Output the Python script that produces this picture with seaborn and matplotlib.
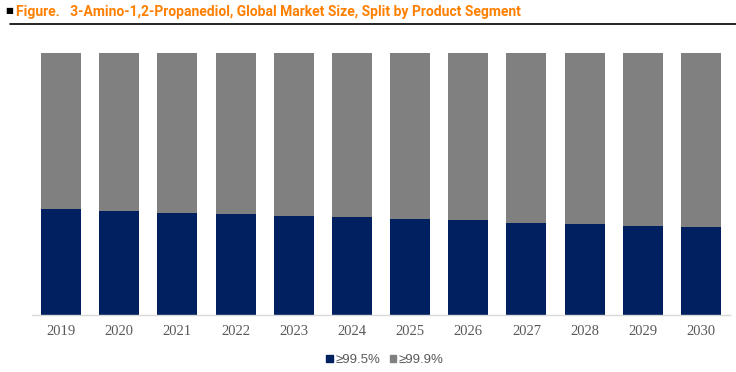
import matplotlib
matplotlib.use("Agg")
import matplotlib.pyplot as plt
import matplotlib.patches as mpatches
import seaborn as sns
import pandas as pd

years = ["2019", "2020", "2021", "2022", "2023", "2024", "2025", "2026", "2027", "2028", "2029", "2030"]
share_995 = [40.5, 39.7, 38.9, 38.5, 37.8, 37.4, 36.6, 36.3, 35.1, 34.7, 34.0, 33.6]
share_999 = [59.5, 60.3, 61.1, 61.5, 62.2, 62.6, 63.4, 63.7, 64.9, 65.3, 66.0, 66.4]
series_names = ["\u226599.5%", "\u226599.9%"]
title_text = "Figure.   3-Amino-1,2-Propanediol, Global Market Size, Split by Product Segment"

df = pd.DataFrame({"year": years, "s995": share_995, "s999": share_999})
df["total"] = df["s995"] + df["s999"]

sns.set_theme(style="white")
plt.rcParams["font.family"] = ["DejaVu Sans"]

NAVY = "#002060"
GREY = "#808080"

fig = plt.figure(figsize=(7.36, 3.72), dpi=100)
ax = fig.add_axes([32 / 736, 57 / 372, 698 / 736, 262 / 372])

sns.barplot(data=df, x="year", y="total", color=GREY, width=0.69, saturation=1,
            linewidth=0, ax=ax)
sns.barplot(data=df, x="year", y="s995", color=NAVY, width=0.69, saturation=1,
            linewidth=0, ax=ax)

ax.set_xlim(-0.5, len(years) - 0.5)
ax.set_ylim(0, 100)
ax.set_xlabel("")
ax.set_ylabel("")
ax.set_yticks([])
for s in ["top", "right", "left"]:
    ax.spines[s].set_visible(False)
ax.spines["bottom"].set_color("#D9D9D9")
ax.spines["bottom"].set_linewidth(1.0)
ax.tick_params(axis="x", length=0, pad=7)
for lbl in ax.get_xticklabels():
    lbl.set_fontfamily(["Liberation Serif", "DejaVu Serif"])
    lbl.set_fontsize(10.5)
    lbl.set_color("#595959")

handles = [mpatches.Patch(color=NAVY, label=series_names[0]),
           mpatches.Patch(color=GREY, label=series_names[1])]
leg = fig.legend(handles=handles, loc="center", bbox_to_anchor=(385 / 736, 1 - 360 / 372),
                 ncol=2, frameon=False, handlelength=0.5, handleheight=0.5,
                 handletextpad=0.2, columnspacing=0.7,
                 prop={"family": ["Liberation Sans", "DejaVu Sans"], "size": 9.5})
for t in leg.get_texts():
    t.set_color("#595959")

# title
fig.text(5 / 736, 1 - 11 / 372, "\u25a0", fontsize=6, color="black", va="center", ha="left",
         family=["DejaVu Sans"])
fig.text(16 / 736, 1 - 12 / 372, title_text, fontsize=10, fontweight="bold",
         family=["Roboto", "DejaVu Sans"], color="#FF7F00", va="center", ha="left")
fig.add_artist(plt.Line2D([10 / 736, 1.0], [1 - 23.5 / 372, 1 - 23.5 / 372],
                          color="black", linewidth=1.2, transform=fig.transFigure))

fig.savefig("out.png", dpi=100)
